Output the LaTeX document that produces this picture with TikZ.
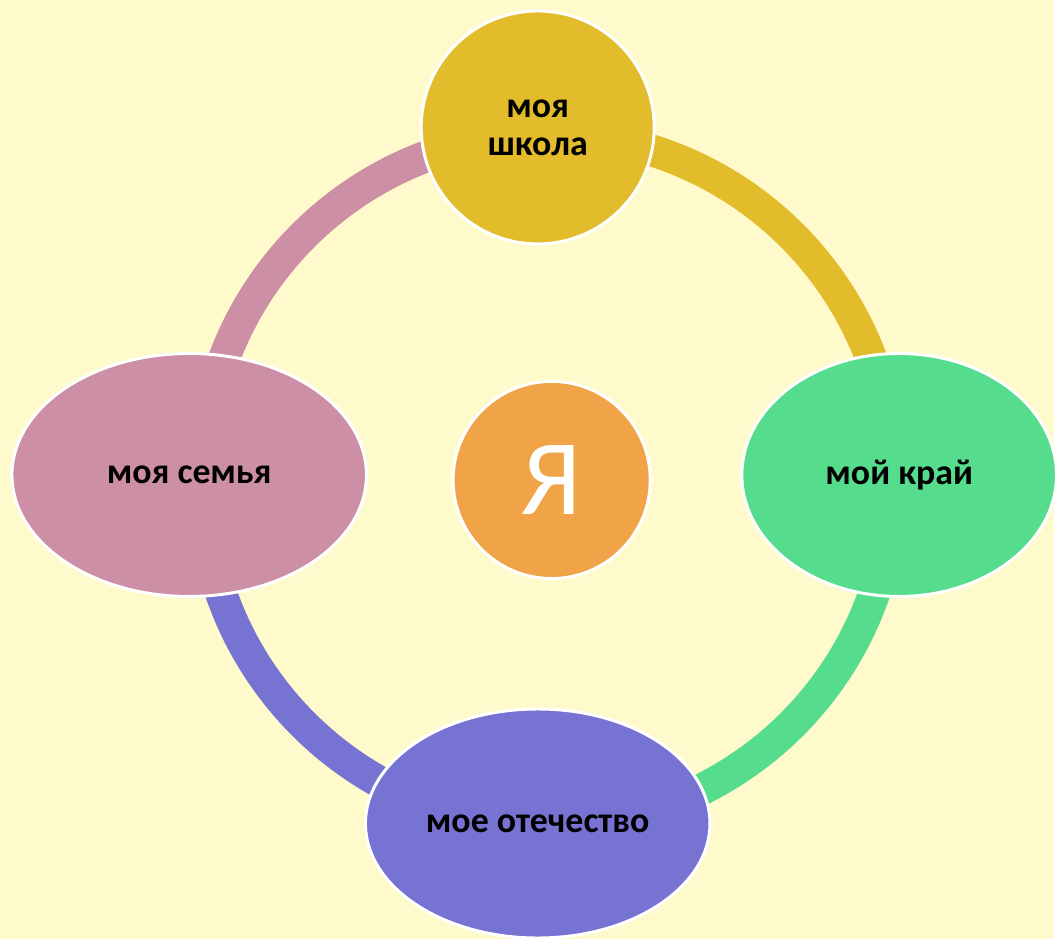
\documentclass[tikz,border=0pt]{standalone}
\usepackage{fontspec}
\setmainfont{Carlito}
\usetikzlibrary{shapes.geometric}

\definecolor{bgyellow}{HTML}{FFFACB}
\definecolor{schoolc}{HTML}{E3BC2C}
\definecolor{familyc}{HTML}{CC8FA6}
\definecolor{regionc}{HTML}{55DC8C}
\definecolor{countryc}{HTML}{7673D2}
\definecolor{selfc}{HTML}{F0A447}

\pgfdeclarelayer{bg}
\pgfsetlayers{bg,main}

\tikzset{
  blob/.style={shape=ellipse,draw=white,line width=1.5pt,inner sep=0pt,
    align=center,font=\bfseries\fontsize{18}{19}\selectfont},
  ring/.style={line width=16pt},
}

\begin{document}
\begin{tikzpicture}[x=0.5pt,y=0.5pt]

  % centre of the ring
  \coordinate (o) at (550,-482);

  % draw the topics with nodes
  \node[blob,shape=circle,fill=schoolc,minimum size=117pt] (school) at (540,-128) {моя\\школа};
  \node[blob,fill=familyc,minimum width=178pt,minimum height=122pt] (family) at (190,-477) {моя семья};
  \node[blob,fill=regionc,minimum width=158pt,minimum height=122pt] (region) at (903,-477) {мой край};
  \node[blob,fill=countryc,minimum width=173pt,minimum height=115pt] (country) at (540,-827) {мое отечество};
  \node[blob,shape=circle,fill=selfc,minimum size=99pt,text=white,
    font=\fontsize{54}{54}\selectfont] (self) at (554,-482) {Я};

  \begin{pgfonlayer}{bg}
  \fill[bgyellow] (0,0) rectangle (1058,-943);
  % draw the ring, one arc per colour
  \foreach \a/\c in {180/familyc,90/schoolc,0/regionc,-90/countryc} {
    \draw[ring,\c] ([shift={(\a:347)}]o) arc[start angle=\a,delta angle=-90,radius=347];
  };
  \end{pgfonlayer}

\end{tikzpicture}
\end{document}
